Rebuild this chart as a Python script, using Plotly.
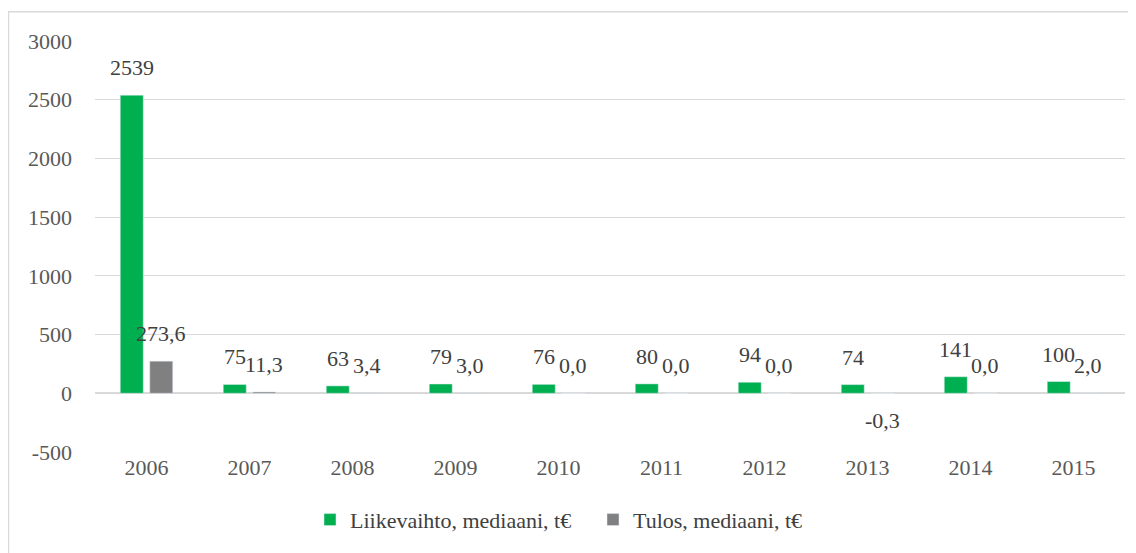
import plotly.graph_objects as go

years = ["2006", "2007", "2008", "2009", "2010", "2011", "2012", "2013", "2014", "2015"]
liikevaihto = [2539, 75, 63, 79, 76, 80, 94, 74, 141, 100]
tulos = [273.6, 11.3, 3.4, 3.0, 0.0, 0.0, 0.0, -0.3, 0.0, 2.0]
name_lv = "Liikevaihto, mediaani, t€"
name_tu = "Tulos, mediaani, t€"
y_tickvals = [-500, 0, 500, 1000, 1500, 2000, 2500, 3000]
y_ticktext = ["-500", "0", "500", "1000", "1500", "2000", "2500", "3000"]

FONT = "Liberation Serif"
TXT = "#404040"
GRID = "#D9D9D9"

fig = go.Figure()
fig.add_trace(go.Bar(x=years, y=liikevaihto, name=name_lv, marker_color="#00B050"))
fig.add_trace(go.Bar(x=years, y=tulos, name=name_tu, marker_color="#808080"))

annos = []
for i, v in enumerate(liikevaihto):
    annos.append(dict(x=i, y=v, text=f"{v:d}", showarrow=False, xshift=-14.75,
                      yshift=27.5 if v >= 0 else -27.5, yanchor="middle",
                      font=dict(family=FONT, size=22, color=TXT)))
for i, v in enumerate(tulos):
    annos.append(dict(x=i, y=v, text=f"{v:.1f}".replace(".", ","), showarrow=False, xshift=14.75,
                      yshift=27.5 if v >= 0 else -27.5, yanchor="middle",
                      font=dict(family=FONT, size=22, color=TXT)))

fig.update_layout(
    width=1128, height=545,
    margin=dict(l=87, r=11, t=33, b=101),
    paper_bgcolor="white", plot_bgcolor="white",
    barmode="group", bargap=0.427, bargroupgap=0.22,
    font=dict(family=FONT, size=22, color=TXT),
    annotations=annos,
    showlegend=True,
    legend=dict(orientation="h", x=(310 - 95) / 1030, xanchor="left", y=-0.165, yanchor="middle",
                entrywidth=238, font=dict(family=FONT, size=22, color=TXT), traceorder="normal"),
    shapes=[dict(type="rect", xref="paper", yref="paper", x0=-0.084, x1=1.05, y0=-0.5, y1=1.071,
                 line=dict(color=GRID, width=1.5), fillcolor="rgba(0,0,0,0)", layer="below")],
)
fig.update_yaxes(range=[-500, 3000], tickvals=y_tickvals, ticktext=y_ticktext,
                 showgrid=True, gridcolor=GRID, gridwidth=1,
                 zeroline=True, zerolinecolor=GRID, zerolinewidth=2, showline=False,
                 tickfont=dict(family=FONT, size=22, color="#595959"), ticklabelstandoff=22)
fig.update_xaxes(type="category", range=[-0.5, 9.5], showgrid=False, showline=False,
                 tickfont=dict(family=FONT, size=22, color="#595959"))

fig.write_html("out.html")
